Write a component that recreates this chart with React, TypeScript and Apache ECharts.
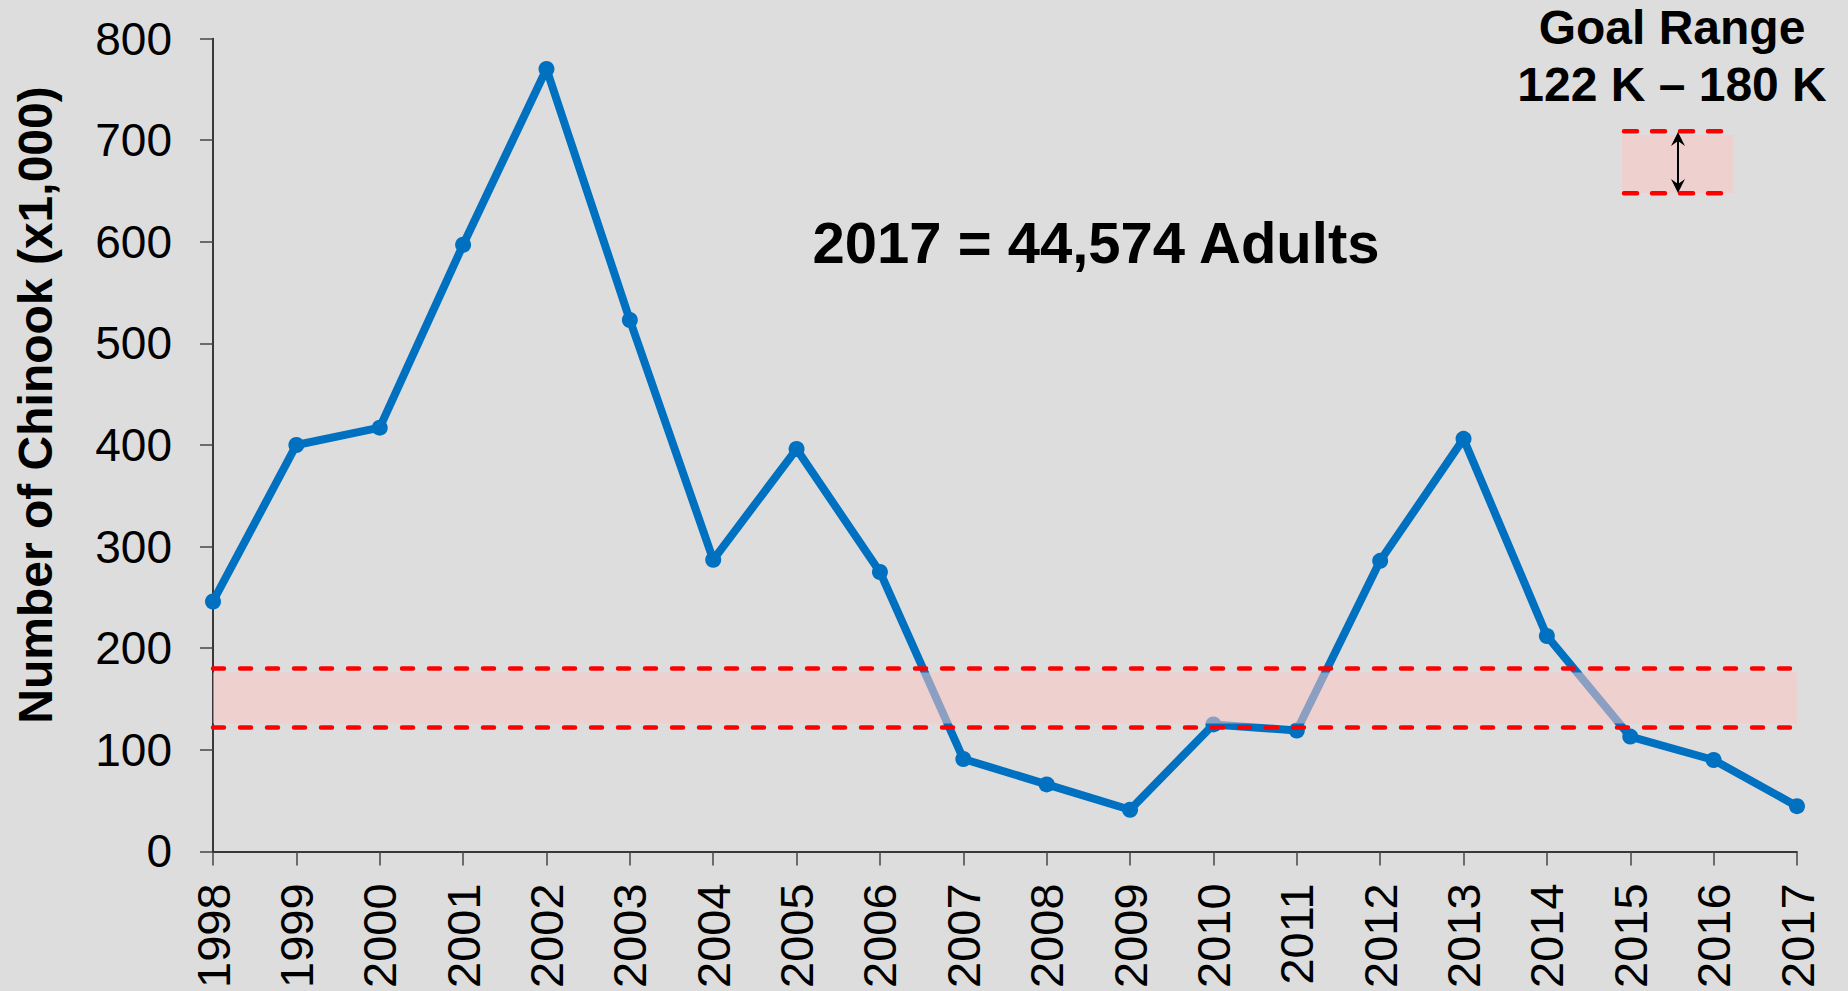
import React, { useEffect, useRef } from "react";
import * as echarts from "echarts";

const years = ["1998","1999","2000","2001","2002","2003","2004","2005","2006","2007","2008","2009","2010","2011","2012","2013","2014","2015","2016","2017"];
const chinook = [246, 400, 417, 597, 770, 523, 287, 396, 275, 91, 66, 41, 125, 119, 286, 406, 212, 113, 90, 44.574];
const goalLow = 122;
const goalHigh = 180;
const bandLow = 126;
const bandHigh = 176;
const yTicks = { min: 0, max: 800, interval: 100 };

const FONT = "'Liberation Sans', Arial, sans-serif";

export default function App() {
  const ref = useRef<HTMLDivElement>(null);
  useEffect(() => {
    document.body.style.margin = "0";
    const chart = echarts.init(ref.current!, null, { renderer: "svg" });
    const dash = { type: [11, 16] as any, cap: "round" as any, width: 4.5, color: "#ff0000" };
    chart.setOption({
      animation: false,
      backgroundColor: "#dddddd",
      textStyle: { fontFamily: FONT },
      grid: { left: 213, right: 51, top: 38.5, bottom: 136, containLabel: false },
      xAxis: {
        type: "category",
        data: years,
        boundaryGap: false,
        axisLine: { lineStyle: { color: "#000", width: 1.5 } },
        axisTick: { show: true, length: 14, inside: false, alignWithLabel: true, lineStyle: { color: "#444", width: 1.5 }, interval: 0 },
        axisLabel: { rotate: 90, margin: 32, fontSize: 47, color: "#000", fontFamily: FONT, interval: 0 },
        splitLine: { show: false },
      },
      yAxis: {
        type: "value",
        min: yTicks.min,
        max: yTicks.max,
        interval: yTicks.interval,
        axisLine: { show: true, lineStyle: { color: "#000", width: 1.5 } },
        axisTick: { show: true, length: 13, lineStyle: { color: "#444", width: 1.5 } },
        axisLabel: { margin: 41, fontSize: 46, color: "#000", fontFamily: FONT },
        splitLine: { show: false },
      },
      series: [
        {
          type: "line",
          data: chinook,
          z: 2,
          symbol: "circle",
          symbolSize: 16,
          lineStyle: { color: "#0070c0", width: 8 },
          itemStyle: { color: "#0070c0" },
        },
        {
          type: "line",
          data: chinook,
          z: 10,
          symbol: "none",
          lineStyle: { opacity: 0 },
          silent: true,
          markArea: {
            z: 10,
            silent: true,
            itemStyle: { color: "rgba(252,199,194,0.55)" },
            data: [[{ yAxis: bandLow }, { yAxis: bandHigh }]],
          },
          markLine: {
            z: 11,
            silent: true,
            symbol: ["none", "none"],
            label: { show: false },
            lineStyle: dash,
            data: [{ yAxis: goalLow }, { yAxis: goalHigh }],
          },
        },
      ],
      graphic: [
        {
          type: "text",
          x: 35, y: 405, rotation: Math.PI / 2,
          style: { text: "Number of Chinook (x1,000)", font: `bold 48px ${FONT}`, fill: "#000", textAlign: "center", textVerticalAlign: "middle" },
        },
        {
          type: "text",
          x: 1096, y: 242,
          style: { text: "2017 = 44,574 Adults", font: `bold 58px ${FONT}`, fill: "#000", textAlign: "center", textVerticalAlign: "middle" },
        },
        {
          type: "text",
          x: 1672, y: 27,
          style: { text: "Goal Range", font: `bold 48px ${FONT}`, fill: "#000", textAlign: "center", textVerticalAlign: "middle" },
        },
        {
          type: "text",
          x: 1672, y: 84,
          style: { text: "122 K \u2013 180 K", font: `bold 48px ${FONT}`, fill: "#000", textAlign: "center", textVerticalAlign: "middle" },
        },
        {
          type: "rect",
          shape: { x: 1622, y: 135, width: 111, height: 58 },
          style: { fill: "rgba(252,199,194,0.55)" },
        },
        {
          type: "line",
          shape: { x1: 1624, y1: 131.3, x2: 1722, y2: 131.3 },
          style: { stroke: "#ff0000", lineWidth: 4.5, lineDash: [13, 15], lineCap: "round" },
        },
        {
          type: "line",
          shape: { x1: 1624, y1: 193.3, x2: 1722, y2: 193.3 },
          style: { stroke: "#ff0000", lineWidth: 4.5, lineDash: [13, 15], lineCap: "round" },
        },
        {
          type: "line",
          shape: { x1: 1678, y1: 136, x2: 1678, y2: 189 },
          style: { stroke: "#000", lineWidth: 2 },
        },
        {
          type: "polygon",
          shape: { points: [[1678, 132], [1671, 146], [1678, 141], [1685, 146]] },
          style: { fill: "#000" },
        },
        {
          type: "polygon",
          shape: { points: [[1678, 193], [1671, 179], [1678, 184], [1685, 179]] },
          style: { fill: "#000" },
        },
      ],
    });
    return () => chart.dispose();
  }, []);
  return <div ref={ref} style={{ position: "fixed", left: 0, top: 0, width: 1848, height: 991 }} />;
}
